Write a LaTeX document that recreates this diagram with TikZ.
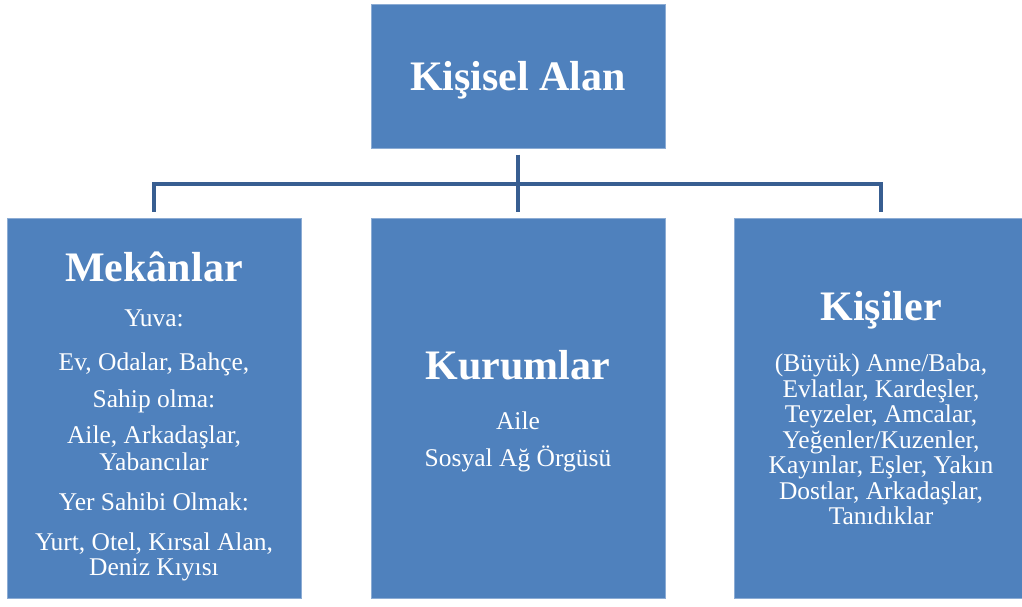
\documentclass[tikz,border=0pt]{standalone}
\usepackage{fontspec}
\setmainfont{Liberation Serif}
\usepackage{tikz}
\usetikzlibrary{positioning,calc}
\definecolor{boxblue}{RGB}{79,129,189}
\definecolor{boxedge}{RGB}{140,172,212}
\definecolor{linkblue}{RGB}{56,94,145}

\begin{document}
\begin{tikzpicture}[x=1pt,y=-1pt,
  area/.style={shape=rectangle, fill=boxblue, draw=boxedge, line width=1pt, text=white,
               align=center, minimum width=294pt, inner sep=0pt},
  leaf/.style={area, minimum height=380pt},
  body/.style={text=white, align=center, inner sep=0pt, font=\fontsize{25.5}{25.5}\selectfont},
  head/.style={font=\fontsize{42}{46}\selectfont\bfseries},
  link/.style={draw=linkblue, line width=4.5pt}]
\useasboundingbox (0,0) rectangle (1022,606);
\node[area, minimum height=144pt, text depth=0pt, head] (root) at (518,76) {Kişisel Alan};
\node[leaf] (mek) at (154,408) {};
\node[leaf] (kur) at (518,408) {};
\node[leaf] (kis) at (881,408) {};
\node[body] (mektext) at ([yshift=-8.5pt]mek.center) {{\fontsize{42}{25.5}\selectfont\bfseries Mekânlar}\\[19.5pt]
  Yuva:\\[19pt]
  Ev, Odalar, Bahçe,\\[11.5pt]
  Sahip olma:\\[10.5pt]
  Aile, Arkadaşlar,\\[1pt]
  Yabancılar\\[14.5pt]
  Yer Sahibi Olmak:\\[14.5pt]
  Yurt, Otel, Kırsal Alan,\\
  Deniz Kıyısı};
\node[body] (kurtext) at ([yshift=-3.5pt]kur.center) {{\fontsize{42}{25.5}\selectfont\bfseries Kurumlar}\\[24.5pt]
  Aile\\[11.5pt]
  Sosyal Ağ Örgüsü};
\node[body] (kistext) at (kis.center) {{\fontsize{42}{25.5}\selectfont\bfseries Kişiler}\\[24.5pt]
  (Büyük) Anne/Baba,\\
  Evlatlar, Kardeşler,\\
  Teyzeler, Amcalar,\\
  Yeğenler/Kuzenler,\\
  Kayınlar, Eşler, Yakın\\
  Dostlar, Arkadaşlar,\\
  Tanıdıklar};
\coordinate (bus) at (518,184);
\draw[link] ([yshift=-6pt]root.south) -- ([yshift=6pt]kur.north);
\draw[link] ([yshift=6pt]mek.north) |- (bus) -| ([yshift=6pt]kis.north);
\end{tikzpicture}
\end{document}
